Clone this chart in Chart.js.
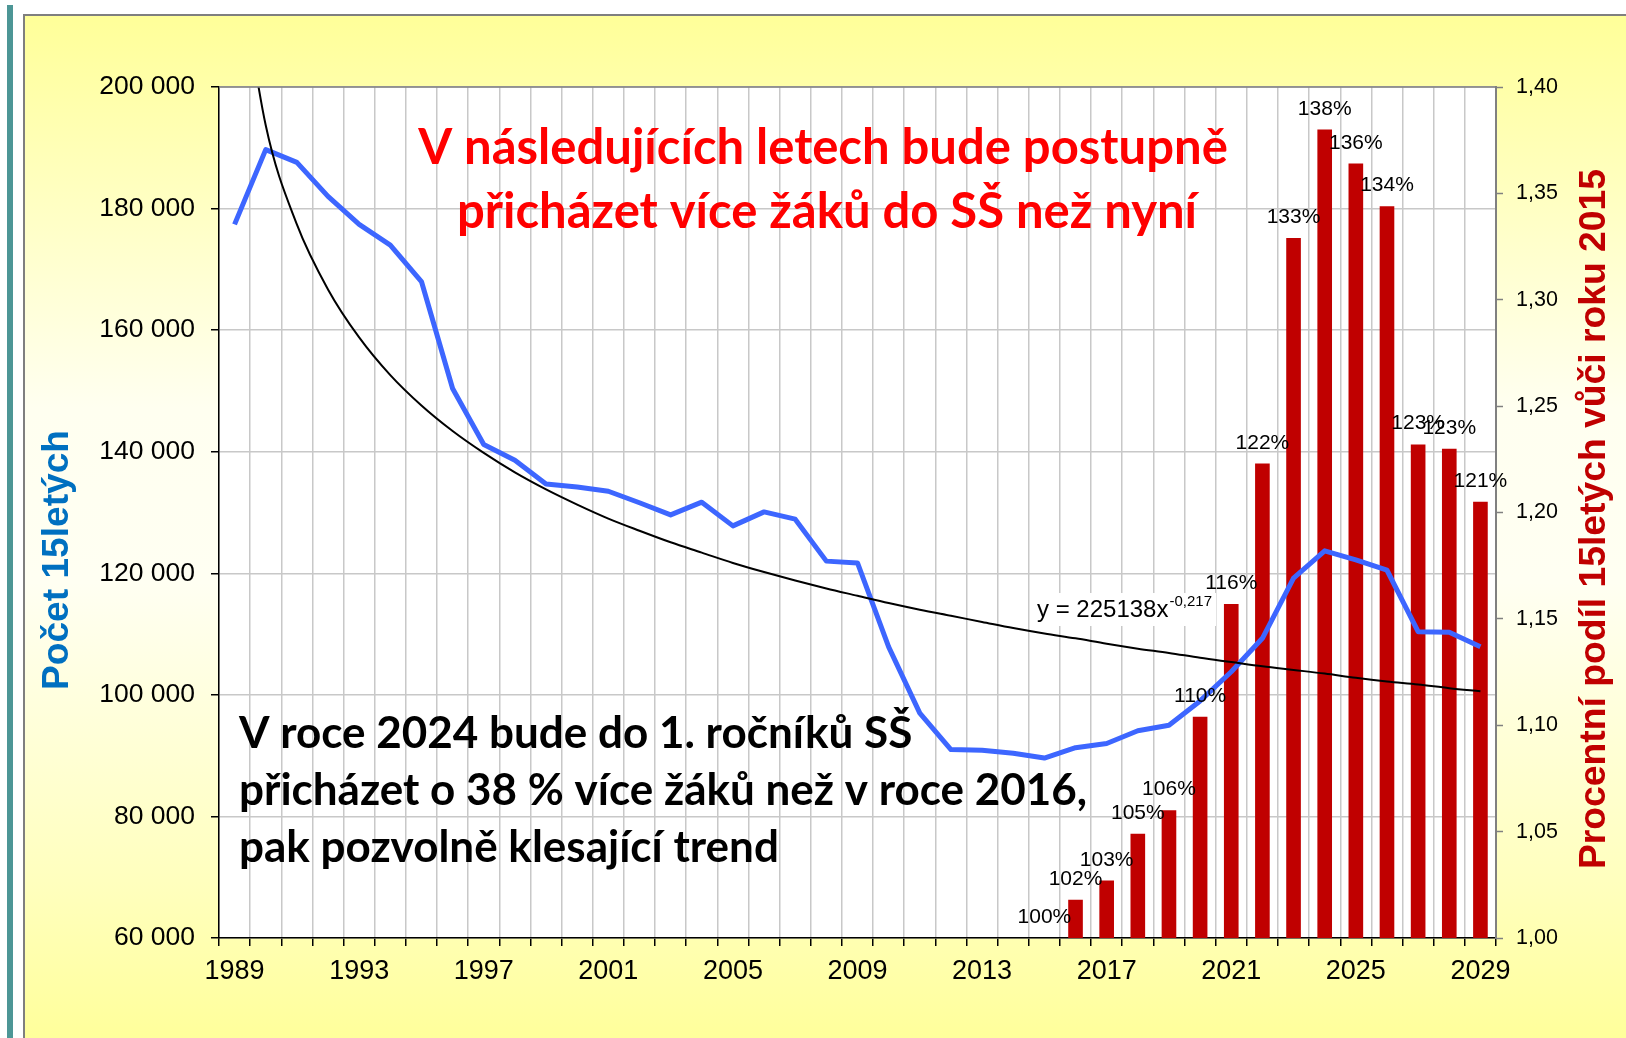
<!DOCTYPE html>
<html><head><meta charset="utf-8">
<script src="https://cdn.jsdelivr.net/npm/chart.js@4.4.1/dist/chart.umd.min.js"></script>
<style>
html,body{margin:0;padding:0;background:#fff;width:1626px;height:1038px;overflow:hidden}
#teal{position:absolute;left:7px;top:5px;width:6px;height:1040px;background:#4d9696}
#panel{position:absolute;left:23px;top:14px;width:1610px;height:1030px;border-left:2px solid #7f7f7f;border-top:2px solid #7f7f7f;
background:linear-gradient(to bottom,#ffff99 0%,#ffffb0 10%,#fffff0 38%,#fffff2 55%,#ffffbc 85%,#ffff99 100%)}
#c{position:absolute;left:0;top:0}
</style></head><body>
<div id="teal"></div><div id="panel"></div>
<canvas id="c" width="1626" height="1038"></canvas>
<script>
const years = ['1989','1990','1991','1992','1993','1994','1995','1996','1997','1998',
  '1999','2000','2001','2002','2003','2004','2005','2006','2007','2008',
  '2009','2010','2011','2012','2013','2014','2015','2016','2017','2018',
  '2019','2020','2021','2022','2023','2024','2025','2026','2027','2028','2029'];
const xTickLabels = ['1989','1993','1997','2001','2005','2009','2013','2017','2021','2025','2029'];
const count15 = [177400,189700,187600,182000,177400,174000,168000,150400,141200,138600,
  134700,134200,133500,131600,129600,131700,127800,130100,128900,122000,
  121700,107900,97000,91000,90900,90400,89600,91300,92000,94100,
  95000,99000,103800,109300,119200,123700,122200,120500,110400,110300,107900];
const trend = [225100,193700,177400,166700,158800,152600,147600,143400,139800,136600,
  133800,131300,129000,127000,125100,123400,121700,120200,118800,117500,
  116300,115100,114000,113000,112000,111000,110100,109300,108400,107600,
  106900,106100,105400,104700,104100,103500,102800,102200,101700,101100,100600];
const shareYears = ['2015','2016','2017','2018','2019','2020','2021','2022','2023','2024','2025','2026','2027','2028','2029'];
const shareValues = [1.000,1.018,1.027,1.049,1.060,1.104,1.157,1.223,1.329,1.380,1.364,1.344,1.232,1.230,1.205];
const shareLabels = ['100%','102%','103%','105%','106%','110%','116%','122%','133%','138%','136%','134%','123%','123%','121%'];
const leftTitle = 'Počet 15letých';
const rightTitle = 'Procentní podíl 15letých vůči roku 2015';
const redText = ['V následujících letech bude postupně','přicházet více žáků do SŠ než nyní'];
const blackText = ['V roce 2024 bude do 1. ročníků SŠ','přicházet o 38 % více žáků než v roce 2016,','pak pozvolně klesající trend'];
const equation = 'y = 225138x';
const equationExp = '-0,217';

const barData = years.map(y => { const i = shareYears.indexOf(y); return i < 0 ? null : shareValues[i]; });
const FONT = '"Liberation Sans", Arial, sans-serif';

function vText(ctx, text, cx, cy, font, color, len) {
  ctx.save();
  ctx.font = font; ctx.fillStyle = color;
  ctx.translate(cx, cy); ctx.rotate(-Math.PI / 2);
  const w = ctx.measureText(text).width;
  ctx.scale(len / w, 1);
  ctx.textAlign = 'center'; ctx.textBaseline = 'middle';
  ctx.fillText(text, 0, 0);
  ctx.restore();
}

const deco = {
  id: 'deco',
  beforeDraw(chart) {
    const {ctx, chartArea: a} = chart;
    ctx.save(); ctx.fillStyle = '#fff';
    ctx.fillRect(a.left, a.top, a.right - a.left, a.bottom - a.top);
    ctx.restore();
  },
  afterDatasetsDraw(chart) {
    const ctx = chart.ctx;
    ctx.save();
    ctx.fillStyle = '#fff';
    ctx.fillRect(1030, 593, 186, 33);
    ctx.fillStyle = '#000';
    ctx.font = '24px ' + FONT; ctx.textAlign = 'left'; ctx.textBaseline = 'alphabetic';
    ctx.fillText(equation, 1037, 617);
    const w = ctx.measureText(equation).width;
    ctx.font = '15px ' + FONT;
    ctx.fillText(equationExp, 1037 + w + 1, 606);
    const meta = chart.getDatasetMeta(0);
    ctx.font = '21px ' + FONT; ctx.textAlign = 'center';
    meta.data.forEach((el, i) => {
      const k = shareYears.indexOf(years[i]);
      if (k < 0) return;
      ctx.fillText(shareLabels[k], el.x, el.y - 15);
    });
    ctx.restore();
  },
  afterDraw(chart) {
    const {ctx, chartArea: a} = chart;
    ctx.save();
    ctx.strokeStyle = '#7f7f7f'; ctx.lineWidth = 1.5;
    ctx.beginPath(); ctx.moveTo(a.left, a.top); ctx.lineTo(a.right, a.top); ctx.stroke();
    vText(ctx, leftTitle, 58, 560, 'bold 37px ' + FONT, '#0070c0', 260);
    vText(ctx, rightTitle, 1595, 519, 'bold 37px ' + FONT, '#c00000', 700);
    ctx.fillStyle = '#ff0000';
    ctx.font = 'bold 49px Lato, "Open Sans", sans-serif';
    ctx.textAlign = 'center'; ctx.textBaseline = 'alphabetic';
    ctx.fillText(redText[0], 823, 164);
    ctx.fillText(redText[1], 827, 228);
    ctx.fillStyle = '#000';
    ctx.font = 'bold 44px Lato, "Open Sans", sans-serif';
    ctx.textAlign = 'left';
    ctx.fillText(blackText[0], 239, 748);
    ctx.fillText(blackText[1], 239, 805);
    ctx.fillText(blackText[2], 239, 862);
    ctx.restore();
  }
};

Chart.defaults.font.family = FONT;
Chart.defaults.color = '#000';

new Chart(document.getElementById('c'), {
  type: 'bar',
  data: {
    labels: years,
    datasets: [
      {type: 'bar', data: barData, yAxisID: 'y1', backgroundColor: '#c00000', barPercentage: 0.47, categoryPercentage: 1, order: 3},
      {type: 'line', data: count15, yAxisID: 'y', borderColor: '#3d66ff', borderWidth: 5, pointRadius: 0, tension: 0, borderJoinStyle: 'round', order: 2},
      {type: 'line', data: trend, yAxisID: 'y', borderColor: '#000', borderWidth: 2, pointRadius: 0, cubicInterpolationMode: 'monotone', order: 1}
    ]
  },
  options: {
    responsive: false, animation: false, devicePixelRatio: 1,
    layout: {padding: {top: 87, left: 0, right: 0, bottom: 0}},
    plugins: {legend: {display: false}, tooltip: {enabled: false}},
    scales: {
      x: {
        offset: true,
        grid: {offset: true, color: '#c8c8c8', lineWidth: 1.5, drawTicks: true, tickLength: 8, tickColor: '#000', tickWidth: 1.5},
        border: {color: '#000', width: 1.5},
        ticks: {autoSkip: false, maxRotation: 0, minRotation: 0, padding: 9, font: {size: 27}, color: '#000',
          callback: function(v, i) { const l = years[i]; return xTickLabels.includes(l) ? l : ''; }},
        afterFit: s => { s.height = 100; }
      },
      y: {
        position: 'left', min: 60000, max: 200000,
        grid: {color: '#c8c8c8', lineWidth: 1.5, tickLength: 8, tickColor: '#000', tickWidth: 1.5},
        border: {color: '#000', width: 1.5},
        ticks: {stepSize: 20000, padding: 16, font: {size: 26.5}, color: '#000',
          callback: v => String(v).replace(/\B(?=(\d{3})+(?!\d))/g, ' ')},
        afterFit: s => { s.width = 219; }
      },
      y1: {
        position: 'right', min: 1, max: 1.4,
        grid: {drawOnChartArea: false, tickLength: 7, tickColor: '#808080', tickWidth: 1.5},
        border: {color: '#808080', width: 2},
        ticks: {stepSize: 0.05, padding: 13, font: {size: 21.5}, color: '#000',
          callback: v => v.toFixed(2).replace('.', ',')},
        afterFit: s => { s.width = 130; }
      }
    }
  },
  plugins: [deco]
});
</script>
</body></html>
